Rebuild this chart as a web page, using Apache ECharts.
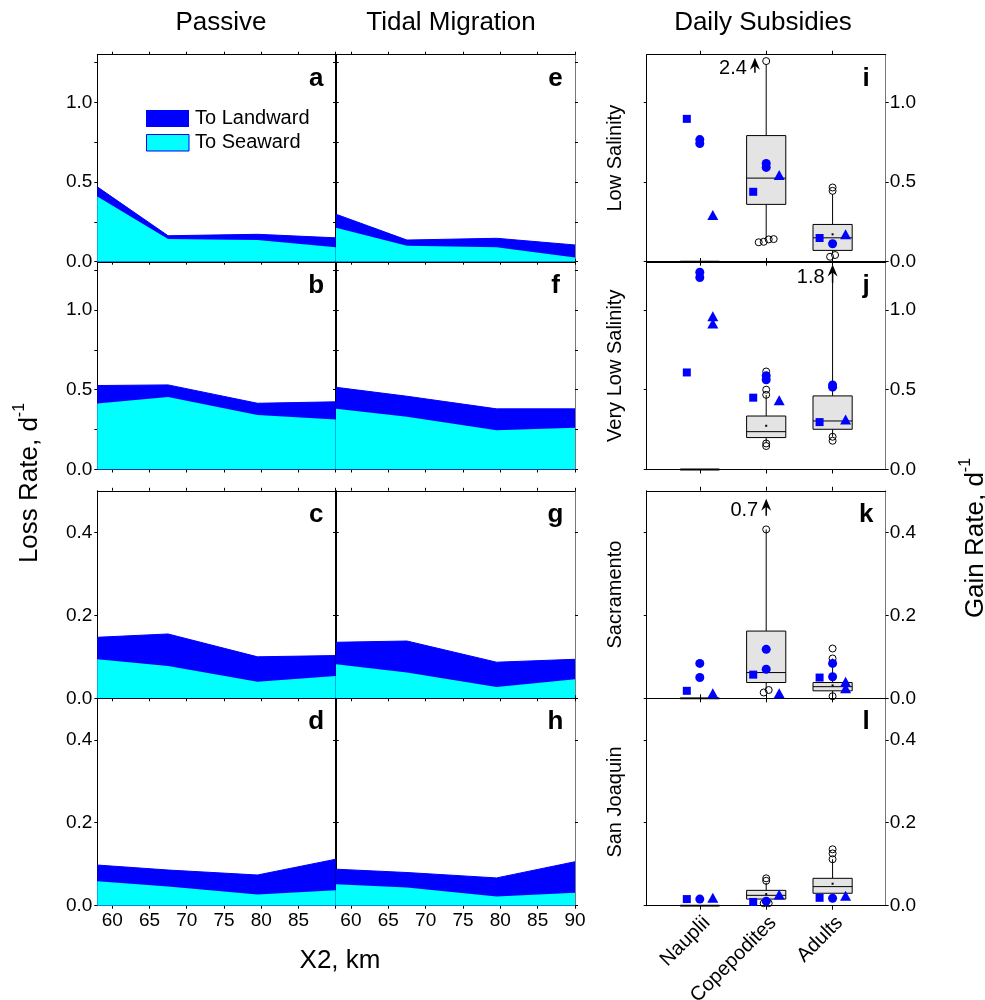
<!DOCTYPE html>
<html><head><meta charset="utf-8">
<script src="https://cdn.jsdelivr.net/npm/echarts@6/dist/echarts.min.js"></script>
<style>html,body{margin:0;padding:0;background:#fff}#chart{width:985px;height:1000px}</style>
</head><body><div id="chart"></div>
<script>
// ---------------- DATA ----------------
const x2Km = [58, 67.5, 79.5, 90];
const x2TickValues = [60, 65, 70, 75, 80, 85, 90];
const passiveXLabels = [60, 65, 70, 75, 80, 85];
const tidalXLabels = [60, 65, 70, 75, 80, 85, 90];

// Passive (top of landward band = total loss; seaward band)
const aTotal = [0.47, 0.163, 0.172, 0.15],  aSeaward = [0.41, 0.142, 0.136, 0.09];
const bTotal = [0.526, 0.53, 0.415, 0.424], bSeaward = [0.413, 0.455, 0.342, 0.313];
const cTotal = [0.147, 0.155, 0.1, 0.103],  cSeaward = [0.094, 0.078, 0.04, 0.054];
const dTotal = [0.098, 0.086, 0.074, 0.112], dSeaward = [0.059, 0.046, 0.027, 0.037];
// Tidal migration
const eTotal = [0.298, 0.136, 0.147, 0.105], eSeaward = [0.213, 0.1, 0.09, 0.027];
const fTotal = [0.515, 0.459, 0.38, 0.38],   fSeaward = [0.38, 0.33, 0.246, 0.261];
const gTotal = [0.135, 0.138, 0.087, 0.094], gSeaward = [0.082, 0.062, 0.027, 0.046];
const hTotal = [0.088, 0.08, 0.067, 0.106],  hSeaward = [0.052, 0.044, 0.022, 0.031];

// Daily subsidies
const stages = ['Nauplii', 'Copepodites', 'Adults'];
// [stage, lowWhisker, q1, median, q3, highWhisker, mean]
const iBoxes = [[1,0,0,0,0,0,null],[2,0.144,0.36,0.525,0.792,1.24,null],[3,0.05,0.071,0.15,0.234,0.424,0.172]];
const iOutliers = [[2,1.26],[2,0.142],[2,0.122],[2,0.125],[2,0.14],[3,0.466],[3,0.445],[3,0.042],[3,0.031]];
const iSquares = [[1,0.897],[2,0.439],[3,0.149]];
const iCircles = [[1,0.767],[1,0.742],[2,0.617],[2,0.592],[3,0.113]];
const iTriangles = [[1,0.293],[2,0.544],[3,0.172]];
const iArrows = [[1.83,1.187,1.281]], iArrowLabels = ['2.4'];

const jBoxes = [[1,0,0,0,0,0,null],[2,0.167,0.2,0.237,0.335,0.467,0.274],[3,0.205,0.252,0.304,0.461,1.18,null]];
const jOutliers = [[2,0.468],[2,0.5],[2,0.614],[2,0.163],[2,0.147],[3,0.205],[3,0.18]];
const jSquares = [[1,0.608],[2,0.45],[3,0.297]];
const jCircles = [[1,1.236],[1,1.203],[2,0.587],[2,0.562],[3,0.53],[3,0.516]];
const jTriangles = [[1,0.96],[1,0.914],[2,0.434],[3,0.314]];
const jArrows = [[3,1.17,1.285]], jArrowLabels = ['1.8'];

const kBoxes = [[1,0,0,0,0,0,null],[2,0.022,0.038,0.062,0.162,0.407,null],[3,0.005,0.018,0.028,0.038,0.096,0.031]];
const kOutliers = [[2,0.407],[2,0.02],[2,0.014],[3,0.12],[3,0.096],[3,0.005]];
const kSquares = [[1,0.018],[2,0.057],[3,0.05]];
const kCircles = [[1,0.084],[1,0.05],[2,0.118],[2,0.07],[3,0.084],[3,0.052]];
const kTriangles = [[1,0.012],[2,0.012],[3,0.04],[3,0.024]];
const kArrows = [[2,0.44,0.481]], kArrowLabels = ['0.7'];

const lBoxes = [[1,0,0,0,0,0,null],[2,0.008,0.016,0.025,0.037,0.055,0.028],[3,0.03,0.03,0.046,0.066,0.112,0.053]];
const lOutliers = [[2,0.066],[2,0.06],[2,0.006],[2,0.006],[3,0.136],[3,0.126],[3,0.112]];
const lSquares = [[1,0.016],[2,0.009],[3,0.019]];
const lCircles = [[1,0.016],[2,0.011],[3,0.018]];
const lTriangles = [[1,0.019],[2,0.027],[3,0.024]];
const lArrows = [], lArrowLabels = [];

const rowNames = ['Low Salinity', 'Very Low Salinity', 'Sacramento', 'San Joaquin'];

// ---------------- LAYOUT / STYLE ----------------
const FONT = '"Liberation Sans", Arial, Helvetica, sans-serif';
const rowTops = [54.7, 262, 490.8, 698.3];
const rowHeights = [207, 207.5, 207.5, 207.4];
const colLefts = [97.3, 336, 646.7];
const colWidths = [238.4, 239, 239];
const rowYMax = [1.3, 1.3, 0.5, 0.5];
const leftTicks = [[0,0.25,0.5,0.75,1,1.25],[0,0.25,0.5,0.75,1,1.25],[0,0.2,0.4],[0,0.2,0.4]];
const majorVals = [[0,0.5,1],[0,0.5,1],[0,0.2,0.4],[0,0.2,0.4]];
const BLUE = '#0000ff', CYAN = '#00ffff';

const grids = [], xAxes = [], yAxes = [], series = [], graphics = [];
const zip = (xs, ys) => xs.map((x, i) => [x, ys[i]]);

function axisLine(color) { return { show: true, onZero: false, lineStyle: { color: color || '#000', width: 1 } }; }
function ticks(vals) { return { show: true, inside: false, length: 3, customValues: vals, lineStyle: { color: '#000', width: 1 } }; }
function addGrid(col, row) {
  grids.push({ left: colLefts[col], top: rowTops[row], width: colWidths[col], height: rowHeights[row], containLabel: false, outerBoundsMode: 'none' });
  return grids.length - 1;
}
function panelLetter(col, row, letter) {
  graphics.push({ type: 'text', x: colLefts[col] + colWidths[col] - 19.5, y: rowTops[row] + 24, z: 100,
    style: { text: letter, fontSize: 26, fontWeight: 'bold', fontFamily: FONT, fill: '#000', align: 'center', verticalAlign: 'middle', textAlign: 'center', textVerticalAlign: 'middle' } });
}

// ---------- left panels ----------
const leftPanels = [
  [0,0,aTotal,aSeaward,'a'],[0,1,bTotal,bSeaward,'b'],[0,2,cTotal,cSeaward,'c'],[0,3,dTotal,dSeaward,'d'],
  [1,0,eTotal,eSeaward,'e'],[1,1,fTotal,fSeaward,'f'],[1,2,gTotal,gSeaward,'g'],[1,3,hTotal,hSeaward,'h']
];
leftPanels.forEach(([col,row,total,sea,letter]) => {
  const gi = addGrid(col, row);
  const xi = xAxes.length;
  xAxes.push({ gridIndex: gi, type: 'value', position: 'bottom', min: 58, max: 90, axisLine: axisLine(), axisTick: ticks(x2TickValues),
    axisLabel: { show: row === 3, customValues: col === 0 ? passiveXLabels : tidalXLabels, fontSize: 19, fontFamily: FONT, color: '#000', margin: 6 },
    splitLine: { show: false } });
  xAxes.push({ gridIndex: gi, type: 'value', position: 'top', min: 58, max: 90, axisLine: axisLine(), axisTick: ticks(x2TickValues),
    axisLabel: { show: false }, splitLine: { show: false } });
  const yi = yAxes.length;
  yAxes.push({ gridIndex: gi, type: 'value', position: 'left', min: 0, max: rowYMax[row], axisLine: axisLine(), axisTick: ticks(leftTicks[row]),
    axisLabel: { show: col === 0, customValues: majorVals[row], formatter: v => Number(v).toFixed(1), fontSize: 19, fontFamily: FONT, color: '#000', margin: 5 },
    splitLine: { show: false } });
  yAxes.push({ gridIndex: gi, type: 'value', position: 'right', min: 0, max: rowYMax[row], axisLine: axisLine(col === 1 ? '#777' : '#000'), axisTick: ticks(leftTicks[row]),
    axisLabel: { show: false }, splitLine: { show: false } });
  series.push({ type: 'line', name: 'To Landward', xAxisIndex: xi, yAxisIndex: yi, data: zip(x2Km, total), symbol: 'none', silent: true,
    lineStyle: { color: BLUE, width: 1 }, areaStyle: { color: BLUE, opacity: 1 }, z: 2, animation: false });
  series.push({ type: 'line', name: 'To Seaward', xAxisIndex: xi, yAxisIndex: yi, data: zip(x2Km, sea), symbol: 'none', silent: true,
    lineStyle: { color: CYAN, width: 0 }, areaStyle: { color: CYAN, opacity: 1 }, z: 3, animation: false });
  panelLetter(col, row, letter);
});

// ---------- right panels ----------
function renderBox(params, api) {
  const x = api.value(0);
  const lo = api.value(1), q1 = api.value(2), md = api.value(3), q3 = api.value(4), hi = api.value(5), mean = api.value(6);
  const half = 0.295;
  const a = api.coord([x - half, q3]);
  const b = api.coord([x + half, q1]);
  const cx = api.coord([x, q1])[0];
  const yLo = api.coord([x, lo])[1], yHi = api.coord([x, hi])[1], yMd = api.coord([x, md])[1];
  const st = { stroke: '#000', lineWidth: 1 };
  const ch = [
    { type: 'line', shape: { x1: cx, y1: b[1], x2: cx, y2: yLo }, style: st },
    { type: 'line', shape: { x1: cx, y1: a[1], x2: cx, y2: yHi }, style: st },
    { type: 'rect', shape: { x: a[0], y: a[1], width: b[0] - a[0], height: b[1] - a[1] }, style: { fill: '#e4e4e4', stroke: '#000', lineWidth: b[1] - a[1] < 0.5 ? 1.8 : 1 } },
    { type: 'line', shape: { x1: a[0], y1: yMd, x2: b[0], y2: yMd }, style: st }
  ];
  if (mean != null && isFinite(mean)) {
    const ym = api.coord([x, mean])[1];
    ch.push({ type: 'rect', shape: { x: cx - 1, y: ym - 1, width: 2, height: 2 }, style: { fill: '#000' } });
  }
  return { type: 'group', children: ch };
}
function makeArrowRenderer(labels) {
  return function (params, api) {
    const x = api.value(0), base = api.value(1), tip = api.value(2);
    const pB = api.coord([x, base]), pT = api.coord([x, tip]);
    return { type: 'group', children: [
      { type: 'line', shape: { x1: pB[0], y1: pB[1], x2: pT[0], y2: pT[1] + 5 }, style: { stroke: '#000', lineWidth: 1.5 } },
      { type: 'polygon', shape: { points: [[pT[0], pT[1]], [pT[0] - 5, pT[1] + 12], [pT[0], pT[1] + 8], [pT[0] + 5, pT[1] + 12]] }, style: { fill: '#000' } },
      { type: 'text', style: { text: labels[params.dataIndex], x: pT[0] - 8, y: pB[1] - 0.3 * (pB[1] - pT[1]), fontSize: 20, fontFamily: FONT, fill: '#000',
        align: 'right', verticalAlign: 'middle', textAlign: 'right', textVerticalAlign: 'middle' } }
    ] };
  };
}
function dodge(outliers, range) {
  const thr = range * 0.012;
  const items = outliers.map(o => ({ v: o, off: 0 }));
  [1, 2, 3].forEach(c => {
    const g = items.filter(it => it.v[0] === c).sort((p, q) => p.v[1] - q.v[1]);
    let grp = [];
    const flush = () => { grp.forEach((it, k) => { it.off = (k - (grp.length - 1) / 2) * 5; }); grp = []; };
    g.forEach(it => { if (grp.length && it.v[1] - grp[grp.length - 1].v[1] > thr) flush(); grp.push(it); });
    flush();
  });
  return items.map(it => ({ value: it.v, symbolOffset: [it.off, 0] }));
}

const rightPanels = [
  [0, iBoxes, iOutliers, iSquares, iCircles, iTriangles, iArrows, iArrowLabels, 'i'],
  [1, jBoxes, jOutliers, jSquares, jCircles, jTriangles, jArrows, jArrowLabels, 'j'],
  [2, kBoxes, kOutliers, kSquares, kCircles, kTriangles, kArrows, kArrowLabels, 'k'],
  [3, lBoxes, lOutliers, lSquares, lCircles, lTriangles, lArrows, lArrowLabels, 'l']
];
rightPanels.forEach(([row, boxes, outl, sq, ci, tri, arrows, arrowLabels, letter]) => {
  const gi = addGrid(2, row);
  const xi = xAxes.length;
  xAxes.push({ gridIndex: gi, type: 'value', position: 'bottom', min: 0.2, max: 3.8, axisLine: axisLine(), axisTick: { ...ticks([1, 2, 3]), length: 4 },
    axisLabel: { show: row === 3, customValues: [1, 2, 3], formatter: v => stages[Math.round(v) - 1], rotate: 45, fontSize: 20, fontFamily: FONT, color: '#000',
      margin: 7, align: 'right', verticalAlign: 'top' },
    splitLine: { show: false } });
  xAxes.push({ gridIndex: gi, type: 'value', position: 'top', min: 0.2, max: 3.8, axisLine: axisLine(), axisTick: { ...ticks([1, 2, 3]), length: 4 },
    axisLabel: { show: false }, splitLine: { show: false } });
  const yi = yAxes.length;
  yAxes.push({ gridIndex: gi, type: 'value', position: 'left', min: 0, max: rowYMax[row], axisLine: axisLine(), axisTick: ticks(majorVals[row]),
    axisLabel: { show: false }, splitLine: { show: false } });
  yAxes.push({ gridIndex: gi, type: 'value', position: 'right', min: 0, max: rowYMax[row], axisLine: axisLine('#777'), axisTick: ticks(majorVals[row]),
    axisLabel: { show: true, customValues: majorVals[row], formatter: v => Number(v).toFixed(1), fontSize: 19, fontFamily: FONT, color: '#000', margin: 4 },
    splitLine: { show: false } });
  series.push({ type: 'custom', xAxisIndex: xi, yAxisIndex: yi, data: boxes, renderItem: renderBox, encode: { x: 0, y: [1, 2, 3, 4, 5] }, z: 2, silent: true, animation: false });
  series.push({ type: 'scatter', xAxisIndex: xi, yAxisIndex: yi, data: dodge(outl, rowYMax[row]), symbol: 'circle', symbolSize: 7,
    itemStyle: { color: 'rgba(255,255,255,0)', borderColor: '#000', borderWidth: 1, opacity: 1 }, z: 3, silent: true, animation: false });
  series.push({ type: 'scatter', xAxisIndex: xi, yAxisIndex: yi, data: sq, symbol: 'rect', symbolSize: 8, symbolOffset: [-13, 0],
    itemStyle: { color: BLUE, opacity: 1 }, z: 4, silent: true, animation: false });
  series.push({ type: 'scatter', xAxisIndex: xi, yAxisIndex: yi, data: ci, symbol: 'circle', symbolSize: 9,
    itemStyle: { color: BLUE, opacity: 1 }, z: 4, silent: true, animation: false });
  series.push({ type: 'scatter', xAxisIndex: xi, yAxisIndex: yi, data: tri, symbol: 'triangle', symbolSize: [11, 10], symbolOffset: [13, 0],
    itemStyle: { color: BLUE, opacity: 1 }, z: 4, silent: true, animation: false });
  if (arrows.length) {
    series.push({ type: 'custom', xAxisIndex: xi, yAxisIndex: yi, data: arrows, renderItem: makeArrowRenderer(arrowLabels), encode: { x: 0, y: [1, 2] }, z: 5, silent: true, animation: false });
  }
  panelLetter(2, row, letter);
  graphics.push({ type: 'text', x: 615, y: rowTops[row] + rowHeights[row] / 2, rotation: Math.PI / 2,
    style: { text: rowNames[row], fontSize: 20, fontFamily: FONT, fill: '#000', align: 'center', verticalAlign: 'middle', textAlign: 'center', textVerticalAlign: 'middle' } });
});

// ---------- titles, axis titles, legend ----------
function plainText(txt, x, y, size, rot) {
  graphics.push({ type: 'text', x, y, rotation: rot || 0,
    style: { text: txt, fontSize: size, fontFamily: FONT, fill: '#000', align: 'center', verticalAlign: 'middle', textAlign: 'center', textVerticalAlign: 'middle' } });
}
plainText('Passive', 221, 23, 26);
plainText('Tidal Migration', 451, 23, 26);
plainText('Daily Subsidies', 763, 23, 26);
plainText('X2, km', 340, 961, 26);
function richTitle(main, x, y) {
  graphics.push({ type: 'text', x, y, rotation: Math.PI / 2,
    style: { text: '{m|' + main + '}{s|-1}', align: 'center', verticalAlign: 'middle', textAlign: 'center', textVerticalAlign: 'middle', fill: '#000',
      rich: { m: { fontSize: 26, fontFamily: FONT, lineHeight: 36, fill: '#000', verticalAlign: 'middle' },
              s: { fontSize: 16, fontFamily: FONT, lineHeight: 16, fill: '#000', verticalAlign: 'top' } } } });
}
richTitle('Loss Rate, d', 30, 483);
richTitle('Gain Rate, d', 976, 538);

graphics.push({ type: 'rect', shape: { x: 146, y: 110, width: 43, height: 17 }, style: { fill: BLUE }, z: 100 });
graphics.push({ type: 'rect', shape: { x: 146.5, y: 134.5, width: 42.5, height: 16.5 }, style: { fill: CYAN, stroke: BLUE, lineWidth: 1 }, z: 100 });
graphics.push({ type: 'text', x: 195, y: 118.5, z: 100, style: { text: 'To Landward', fontSize: 20, fontFamily: FONT, fill: '#000', align: 'left', verticalAlign: 'middle', textAlign: 'left', textVerticalAlign: 'middle' } });
graphics.push({ type: 'text', x: 195, y: 142.5, z: 100, style: { text: 'To Seaward', fontSize: 20, fontFamily: FONT, fill: '#000', align: 'left', verticalAlign: 'middle', textAlign: 'left', textVerticalAlign: 'middle' } });

const chart = echarts.init(document.getElementById('chart'), null, { renderer: 'canvas' });
chart.setOption({
  backgroundColor: '#fff',
  animation: false,
  textStyle: { fontFamily: FONT },
  grid: grids, xAxis: xAxes, yAxis: yAxes, series: series, graphic: { elements: graphics }
});
</script></body></html>
